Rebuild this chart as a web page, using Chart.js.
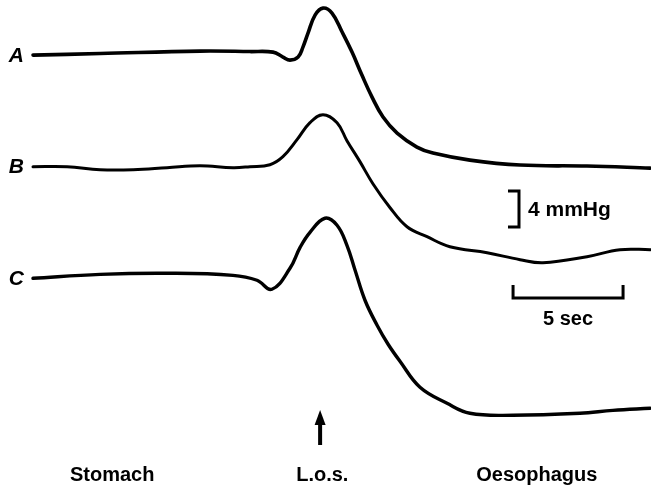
<!DOCTYPE html>
<html><head><meta charset="utf-8">
<script src="https://cdn.jsdelivr.net/npm/chart.js@4"></script>
<style>html,body{margin:0;padding:0;background:#fff}canvas{display:block}</style>
</head><body>
<canvas id="c" width="651" height="488"></canvas>
<script>
// ---- data (time in seconds, pressure in mmHg relative to each trace's gastric start) ----
const traceNames = ['A', 'B', 'C'];

const timeA  = [0, 3.05, 7.59, 9.86, 10.91, 11.36, 11.68, 12.05, 12.27, 12.5, 12.82, 13.18, 13.59, 14.05, 14.5, 14.95, 15.41, 15.91, 16.55, 17.45, 18.18, 19.86, 22.14, 25.18, 28.05];
const pressA = [0, 0.17, 0.44, 0.39, 0.33, -0.22, -0.56, -0.22, 0.89, 2.44, 4.44, 5.22, 4.67, 2.56, 0.33, -2.22, -4.67, -6.89, -8.67, -10.22, -10.89, -11.67, -12.22, -12.33, -12.56];

const timeB  = [0, 1.55, 3.05, 4.55, 6.09, 7.59, 9.09, 9.86, 10.77, 11.36, 12.0, 12.59, 13.18, 13.82, 14.27, 14.86, 15.45, 16.23, 17.0, 17.91, 18.95, 20.64, 22.14, 23.18, 25.18, 26.68, 28.05];
const pressB = [0, 0, -0.33, -0.33, -0.11, 0.11, -0.11, 0, 0.22, 1.11, 3.0, 4.89, 5.78, 4.89, 2.89, 0.56, -1.89, -4.56, -6.67, -7.78, -8.89, -9.56, -10.33, -10.67, -10.0, -9.22, -9.22];

const timeC  = [0, 3.05, 6.09, 9.09, 10.18, 10.86, 11.68, 12.14, 12.59, 13.27, 13.82, 14.27, 14.64, 15.09, 15.64, 16.14, 16.68, 17.59, 18.82, 19.86, 21.82, 24.86, 26.36, 28.05];
const pressC = [0, 0.44, 0.56, 0.33, -0.22, -1.22, 1.11, 3.44, 5.11, 6.67, 5.89, 3.67, 0.89, -2.44, -5.22, -7.33, -9.22, -12.11, -13.89, -15.0, -15.22, -15.0, -14.67, -14.44];

const regionLabels = ['Stomach', 'L.o.s.', 'Oesophagus'];
const regionTimes  = [3.6, 13.15, 22.9];
const losTime = 13.05;
const barMmHg = 4;
const barSec = 5;

// ---- layout (not data) ----
const baselines = [48.1, 35.7, 23.3];       // vertical offsets of traces on y scale
const widths = [3.6, 3.0, 3.4];
const mmHgBarPos = { t: 22.09, v: 29.0 };
const secBarPos  = { t: 21.82, v: 21.11 };

const series = [[timeA, pressA], [timeB, pressB], [timeC, pressC]];
const datasets = series.map(([t, p], i) => ({
  label: traceNames[i],
  data: t.map((x, k) => ({ x: x, y: p[k] + baselines[i] })),
  borderColor: '#000',
  borderWidth: widths[i],
  pointRadius: 0,
  fill: false,
  tension: 0.4,
  borderCapStyle: 'round',
  borderJoinStyle: 'round'
}));

const FONT = '"Liberation Sans", Arial, Helvetica, sans-serif';

const annot = {
  id: 'annot',
  afterDraw(chart) {
    const ctx = chart.ctx, xs = chart.scales.x, ys = chart.scales.y;
    ctx.save();
    ctx.fillStyle = '#000';
    ctx.strokeStyle = '#000';
    // trace labels
    ctx.font = 'italic bold 21px ' + FONT;
    ctx.textAlign = 'right';
    ctx.textBaseline = 'middle';
    traceNames.forEach((n, i) => {
      ctx.fillText(n, xs.getPixelForValue(0) - 9, ys.getPixelForValue(baselines[i]) + 1);
    });
    // mmHg bracket
    ctx.lineWidth = 3;
    ctx.lineCap = 'butt';
    const bx = xs.getPixelForValue(mmHgBarPos.t);
    const by0 = ys.getPixelForValue(mmHgBarPos.v);
    const by1 = ys.getPixelForValue(mmHgBarPos.v + barMmHg);
    ctx.beginPath();
    ctx.moveTo(bx - 11, by1); ctx.lineTo(bx, by1); ctx.lineTo(bx, by0); ctx.lineTo(bx - 11, by0);
    ctx.stroke();
    ctx.font = 'bold 21px ' + FONT;
    ctx.textAlign = 'left';
    ctx.fillText(barMmHg + ' mmHg', bx + 9, (by0 + by1) / 2 + 1);
    // seconds bar
    const sx0 = xs.getPixelForValue(secBarPos.t);
    const sx1 = xs.getPixelForValue(secBarPos.t + barSec);
    const sy = ys.getPixelForValue(secBarPos.v);
    ctx.beginPath();
    ctx.moveTo(sx0, sy - 13); ctx.lineTo(sx0, sy); ctx.lineTo(sx1, sy); ctx.lineTo(sx1, sy - 13);
    ctx.stroke();
    ctx.font = 'bold 20px ' + FONT;
    ctx.textAlign = 'center';
    ctx.fillText(barSec + ' sec', (sx0 + sx1) / 2, sy + 21);
    // arrow
    const ax = xs.getPixelForValue(losTime);
    ctx.lineWidth = 4;
    ctx.beginPath();
    ctx.moveTo(ax, 445); ctx.lineTo(ax, 420);
    ctx.stroke();
    ctx.beginPath();
    ctx.moveTo(ax, 410); ctx.lineTo(ax - 5.5, 425); ctx.lineTo(ax + 5.5, 425); ctx.closePath();
    ctx.fill();
    // region labels
    ctx.font = 'bold 20px ' + FONT;
    regionLabels.forEach((l, i) => {
      ctx.fillText(l, xs.getPixelForValue(regionTimes[i]), 475);
    });
    ctx.restore();
  }
};

new Chart(document.getElementById('c'), {
  type: 'line',
  data: { datasets },
  options: {
    responsive: false,
    animation: false,
    devicePixelRatio: 1,
    layout: { padding: 0 },
    plugins: { legend: { display: false }, tooltip: { enabled: false } },
    scales: {
      x: { type: 'linear', min: -1.5, max: 28.09, display: false },
      y: { type: 'linear', min: 0, max: 54.22, display: false }
    }
  },
  plugins: [annot]
});
</script>
</body></html>
